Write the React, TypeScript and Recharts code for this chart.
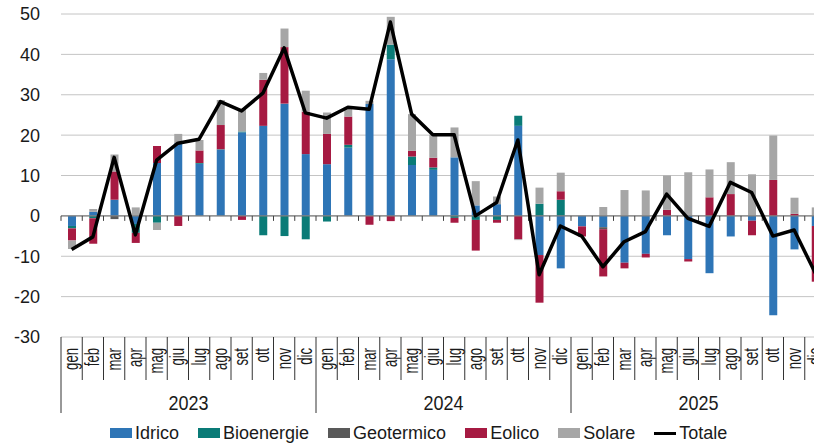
import React from 'react';
import {
  ComposedChart,
  Bar,
  Line,
  XAxis,
  YAxis,
  CartesianGrid,
  ReferenceLine,
  Legend,
} from 'recharts';

// Variazioni mensili della produzione rinnovabile per fonte (TWh-eq)
const MONTHS = ['gen', 'feb', 'mar', 'apr', 'mag', 'giu', 'lug', 'ago', 'set', 'ott', 'nov', 'dic'];
const YEARS = ['2023', '2024', '2025'];

const idrico = [
  -2.5, 1.0, 4.0, -2.0, 13.1, 18.0, 12.9, 16.4, 20.7, 22.3, 27.8, 15.3,
  12.8, 16.9, 27.7, 38.8, 12.6, 11.4, 14.5, 2.6, 2.9, 22.3, -9.7, -13.0,
  -2.6, -2.8, -11.6, -9.4, -4.8, -10.7, -14.2, -5.1, -1.2, -24.6, -8.3, -2.5,
];
const bioenergie = [
  -0.6, -0.6, 0, -2.2, -1.7, 0, 0.2, 0.1, 0.2, -4.8, -5.0, -5.8,
  -1.4, 0.7, 0, 3.6, 2.1, 0.6, -0.5, -1.0, -1.0, 2.5, 3.0, 4.0,
  0, 0, 0, 0, 0, 0, 0, 0, 0, 0, 0, 0,
];
const geotermico = [
  0, 0, -0.8, 0, 0, 0, 0, 0, 0, 0, 0, 0,
  0, 0, 0, 0, 0, 0, 0, 0, 0, 0, 0, 0,
  0, -0.5, 0, 0, 0, 0, 0, 0, 0, 0, 0, 0,
];
const eolico = [
  -3.0, -6.3, 7.0, -2.5, 4.2, -2.5, 3.1, 6.0, -1.0, 11.4, 14.0, 10.5,
  7.5, 7.0, -2.2, -1.3, 1.4, 2.4, -1.2, -7.6, -0.7, -5.8, -11.8, 2.1,
  -2.5, -11.7, -1.4, -0.9, 1.5, -0.6, 4.6, 5.4, -3.6, 8.9, 0.5, -13.8,
];
const solare = [
  -2.1, 0.7, 4.2, 2.1, -1.8, 2.3, 2.6, 6.2, 5.6, 1.7, 4.6, 5.2,
  5.3, 2.0, 0.8, 6.9, 9.1, 5.7, 7.4, 6.0, 1.9, -0.2, 4.0, 4.6,
  0, 2.2, 6.4, 6.3, 8.5, 10.8, 6.9, 7.9, 10.3, 11.0, 4.0, 2.1,
];
const totale = [
  -8.3, -5.2, 14.5, -4.7, 13.8, 18.0, 19.0, 28.3, 26.0, 30.4, 41.6, 25.5,
  24.2, 26.9, 26.4, 48.0, 25.2, 20.1, 20.1, 0.0, 3.3, 18.8, -14.6, -2.5,
  -5.0, -12.6, -6.4, -3.9, 5.4, -0.6, -2.6, 8.3, 5.8, -5.0, -3.5, -14.2,
];
const Y_TICKS = [-30, -20, -10, 0, 10, 20, 30, 40, 50];

const COLORS = {
  idrico: '#2E75B6',
  bioenergie: '#0A7B77',
  geotermico: '#595959',
  eolico: '#A61A42',
  solare: '#A6A6A6',
  totale: '#000000',
};

const FONT = '"Liberation Sans", Arial, sans-serif';
const CHART_W = 826;
const CHART_H = 445;
const Y_AXIS_W = 61;
const N = YEARS.length * MONTHS.length;
const BW = (CHART_W - Y_AXIS_W) / N;

const data = YEARS.flatMap((year, yi) =>
  MONTHS.map((m, mi) => {
    const i = yi * 12 + mi;
    return {
      key: `${m}-${year}`,
      month: m,
      year,
      idrico: idrico[i],
      bioenergie: bioenergie[i],
      geotermico: geotermico[i],
      eolico: eolico[i],
      solare: solare[i],
      totale: totale[i],
    };
  })
);

function MonthTick(props: any) {
  const { x, y, payload } = props;
  const i = payload.index;
  const row = data[i];
  const left = x - BW / 2;
  const yearStart = i % 12 === 0;
  return (
    <g>
      <line x1={left} x2={left} y1={y} y2={y + (yearStart ? 76 : 43)} stroke="#333" strokeWidth={1} />
      <text
        transform={`translate(${x + 6.5},${y + 11}) rotate(-90) scale(0.64,1)`}
        textAnchor="end"
        fontSize={20.5}
        fontFamily={FONT}
        fill="#1a1a1a"
      >
        {row.month}
      </text>
      {i % 12 === 6 && (
        <text
          transform={`translate(${left},${y + 73}) scale(0.9,1)`}
          textAnchor="middle"
          fontSize={20}
          fontFamily={FONT}
          fill="#1a1a1a"
        >
          {row.year}
        </text>
      )}
    </g>
  );
}

function ZeroLine(props: any) {
  const { x1, x2, y1 } = props;
  const step = (x2 - x1) / N;
  return (
    <g>
      <line x1={x1} x2={x2} y1={y1} y2={y1} stroke="#7f7f7f" strokeWidth={1.3} />
      {data.map((_, i) => (
        <line
          key={i}
          x1={x1 + i * step}
          x2={x1 + i * step}
          y1={y1}
          y2={y1 + 5}
          stroke="#404040"
          strokeWidth={1}
        />
      ))}
    </g>
  );
}

const LEGEND_ITEMS = [
  { name: 'Idrico', color: COLORS.idrico, line: false },
  { name: 'Bioenergie', color: COLORS.bioenergie, line: false },
  { name: 'Geotermico', color: COLORS.geotermico, line: false },
  { name: 'Eolico', color: COLORS.eolico, line: false },
  { name: 'Solare', color: COLORS.solare, line: false },
  { name: 'Totale', color: COLORS.totale, line: true },
];

function LegendContent() {
  return (
    <div
      style={{
        display: 'flex',
        alignItems: 'center',
        height: 24,
        paddingLeft: 110,
        fontFamily: FONT,
        fontSize: 18,
        color: '#1a1a1a',
        whiteSpace: 'nowrap',
      }}
    >
      {LEGEND_ITEMS.map((it) => (
        <div key={it.name} style={{ display: 'flex', alignItems: 'center', marginRight: 19 }}>
          <span
            style={{
              display: 'inline-block',
              width: 22,
              height: it.line ? 3 : 10,
              background: it.color,
            }}
          />
          <span style={{ marginLeft: 3 }}>{it.name}</span>
        </div>
      ))}
    </div>
  );
}

export default function App() {
  return (
    <div
      style={{
        position: 'fixed',
        left: 0,
        top: 0,
        width: 814,
        height: 445,
        overflow: 'hidden',
        background: '#fff',
      }}
    >
      <ComposedChart
        width={CHART_W}
        height={CHART_H}
        data={data}
        stackOffset="sign"
        margin={{ top: 14, right: 0, bottom: 0, left: 0 }}
      >
        <CartesianGrid vertical={false} stroke="#c4c4c4" />
        <XAxis
          dataKey="key"
          interval={0}
          height={84}
          axisLine={false}
          tickLine={false}
          tickSize={0}
          tickMargin={0}
          tick={<MonthTick />}
        />
        <YAxis
          type="number"
          domain={[-30, 50]}
          ticks={Y_TICKS}
          width={Y_AXIS_W}
          axisLine={false}
          tickLine={false}
          tickSize={0}
          tickMargin={21}
          tick={{ fontSize: 18, fontFamily: FONT, fill: '#1a1a1a' }}
        />
        <Bar dataKey="idrico" name="Idrico" stackId="a" fill={COLORS.idrico} barSize={8} isAnimationActive={false} />
        <Bar dataKey="bioenergie" name="Bioenergie" stackId="a" fill={COLORS.bioenergie} barSize={8} isAnimationActive={false} />
        <Bar dataKey="geotermico" name="Geotermico" stackId="a" fill={COLORS.geotermico} barSize={8} isAnimationActive={false} />
        <Bar dataKey="eolico" name="Eolico" stackId="a" fill={COLORS.eolico} barSize={8} isAnimationActive={false} />
        <Bar dataKey="solare" name="Solare" stackId="a" fill={COLORS.solare} barSize={8} isAnimationActive={false} />
        <ReferenceLine y={0} shape={(p: any) => <ZeroLine {...p} />} />
        <Line
          type="linear"
          dataKey="totale"
          name="Totale"
          stroke={COLORS.totale}
          strokeWidth={3.5}
          strokeLinejoin="round"
          dot={false}
          activeDot={false}
          isAnimationActive={false}
        />
        <Legend
          verticalAlign="bottom"
          content={<LegendContent />}
          wrapperStyle={{ left: 0, width: 814, height: 24 }}
        />
      </ComposedChart>
    </div>
  );
}
